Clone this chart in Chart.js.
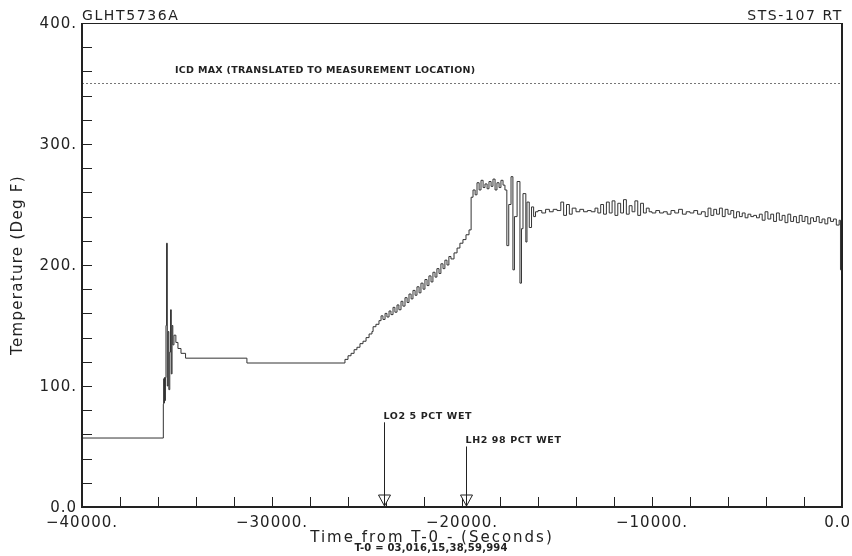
<!DOCTYPE html>
<html>
<head>
<meta charset="utf-8">
<script src="https://cdn.jsdelivr.net/npm/chart.js@4/dist/chart.umd.min.js"></script>
<style>
  html, body { margin: 0; padding: 0; background: #fff; }
  #wrap { width: 852px; height: 556px; }
</style>
</head>
<body>
<div id="wrap"><canvas id="chart" width="852" height="556"></canvas></div>
<script>
// Header texts
const leftHeader = 'GLHT5736A';
const rightHeader = 'STS-107 RT';
const xTitle = 'Time from T-0 - (Seconds)';
const xSubTitle = 'T-0 = 03,016,15,38,59,994';
const yTitle = 'Temperature (Deg F)';

// Axis ticks
const xTickValues = [-40000, -30000, -20000, -10000, 0];
const xTickLabels = ['\u221240000.', '\u221230000.', '\u221220000.', '\u221210000.', '0.0'];
const yTickValues = [0, 100, 200, 300, 400];
const yTickLabels = ['0.0', '100.', '200.', '300.', '400.'];

// Limit line
const icdMax = 350;
const icdLabel = 'ICD MAX (TRANSLATED TO MEASUREMENT LOCATION)';

// Events (time, label, label level in Deg F)
const eventTimes = [-24100, -19800];
const eventLabels = ['LO2 5 PCT WET', 'LH2 98 PCT WET'];
const eventLevels = [70, 50];

// Measurement: time (s) where the value changes, temperature (Deg F)
const timeSec = [
  -40000, -35720, -35700, -35680, -35660, -35640, -35610, -35580, -35550, -35510,
  -35470, -35430, -35380, -35340, -35300, -35260, -35220, -35160, -35060, -34950,
  -34790, -34550, -31320,
  -26160, -26000, -25840, -25680, -25530, -25370, -25210, -25050, -24890, -24740,
  -24680, -24530, -24370, -24260, -24160, -24050, -23950, -23840, -23740, -23630,
  -23530, -23420, -23320, -23210, -23110, -23000, -22890, -22790, -22680, -22580,
  -22470, -22370, -22260, -22160, -22050, -21950, -21840, -21740, -21630, -21530,
  -21420, -21320, -21210, -21110, -21000, -20900, -20790, -20690, -20580, -20420,
  -20260, -20110, -19950, -19790, -19630,
  -19520, -19420, -19310, -19210, -19100, -19000, -18890, -18790, -18680, -18580,
  -18470, -18370, -18260, -18160, -18050, -17950, -17840, -17740,
  -17640, -17540, -17420, -17320, -17240, -17100, -16950, -16870, -16790, -16640,
  -16580, -16460, -16340, -16230, -16130,
  -16000, -15800, -15600, -15400, -15200, -15000, -14800, -14650, -14500, -14350,
  -14200, -14000, -13800, -13600, -13400, -13200, -13000, -12850, -12700, -12550,
  -12400, -12250, -12100, -11950, -11800, -11650, -11500, -11350, -11200, -11050,
  -10900, -10750, -10600, -10450, -10300, -10150, -10000, -9800, -9600, -9400,
  -9200, -9000, -8800, -8600, -8400, -8200, -8000, -7800, -7600, -7400,
  -7200, -7050, -6900, -6750, -6600, -6450, -6300, -6150, -6000, -5850,
  -5700, -5550, -5400, -5250, -5100, -4950, -4800, -4650, -4500, -4350,
  -4200, -4050, -3900, -3750, -3600, -3450, -3300, -3150, -3000, -2850,
  -2700, -2550, -2400, -2250, -2100, -1950, -1800, -1650, -1500, -1350,
  -1200, -1050, -900, -750, -600, -450, -300, -150, -80, 0
];
const tempF = [
  57, 85, 106, 86, 107, 88, 107, 150, 218, 100,
  145, 97, 128, 163, 110, 150, 134, 142, 136, 131,
  127, 123, 119,
  122, 125, 127, 130, 132, 135, 137, 140, 143, 145,
  149, 151, 154, 158, 155, 160, 157, 162, 159, 165,
  161, 167, 163, 170, 166, 173, 169, 176, 172, 179,
  175, 182, 177, 185, 180, 188, 183, 191, 186, 194,
  190, 197, 193, 201, 197, 204, 200, 207, 205, 210,
  214, 218, 221, 225, 229,
  256, 262, 258, 268, 262, 270, 264, 267, 263, 269,
  265, 271, 262, 268, 264, 270, 266, 262,
  216, 250, 273, 196, 240, 269, 185, 230, 259, 219,
  252, 231, 248, 240, 244,
  245, 243, 246, 244, 246, 245, 252, 241, 250, 242,
  247, 244, 246, 244, 245, 244, 247, 243, 250, 242,
  252, 243, 253, 241, 251, 243, 254, 242, 249, 244,
  253, 241, 251, 243, 247, 244, 243, 245, 243, 244,
  242, 245, 243, 246, 242, 244, 243, 245, 242, 244,
  240, 247, 241, 246, 242, 247, 240, 246, 242, 245,
  239, 244, 240, 243, 239, 242, 240, 241, 239, 242,
  237, 244, 238, 242, 236, 243, 237, 241, 235, 242,
  236, 240, 235, 241, 236, 240, 234, 239, 236, 240,
  235, 238, 234, 239, 236, 238, 233, 237, 196, 196
];

const INK = '#222';
const FONT = '"DejaVu Sans", sans-serif';

function setSpacing(ctx, px) {
  if ('letterSpacing' in ctx) ctx.letterSpacing = px + 'px';
}

// Frame, inward ticks, labels and event arrows
const plotDecor = {
  id: 'plotDecor',
  afterDraw(chart) {
    const { ctx, chartArea: a, scales: { x, y } } = chart;
    ctx.save();
    ctx.strokeStyle = INK;
    ctx.fillStyle = INK;

    // frame
    ctx.lineWidth = 1;
    ctx.strokeRect(a.left + 0.5, a.top + 0.5, a.right - a.left, a.bottom - a.top);
    ctx.lineWidth = 2;
    ctx.beginPath();
    ctx.moveTo(a.right, a.top);
    ctx.lineTo(a.right, a.bottom);
    ctx.moveTo(a.left, a.top);
    ctx.lineTo(a.left, a.bottom);
    ctx.lineTo(a.right, a.bottom);
    ctx.stroke();

    // minor ticks, inward
    ctx.lineWidth = 1;
    ctx.beginPath();
    for (let v = 20; v < 400; v += 20) {
      const py = Math.round(y.getPixelForValue(v)) + 0.5;
      ctx.moveTo(a.left, py);
      ctx.lineTo(a.left + 10, py);
    }
    for (let t = -38000; t < 0; t += 2000) {
      const px = Math.round(x.getPixelForValue(t)) + 0.5;
      ctx.moveTo(px, a.bottom);
      ctx.lineTo(px, a.bottom - 10);
    }
    ctx.stroke();

    // tick labels
    ctx.font = '15px ' + FONT;
    setSpacing(ctx, 1);
    ctx.textBaseline = 'middle';
    ctx.textAlign = 'right';
    yTickValues.forEach((v, i) => {
      const shift = v === 0 ? 5 : 5;
      ctx.fillText(yTickLabels[i], a.left - shift, y.getPixelForValue(v) + 1);
    });
    ctx.textAlign = 'center';
    xTickValues.forEach((t, i) => {
      let px = x.getPixelForValue(t);
      const w = ctx.measureText(xTickLabels[i]).width;
      if (px + w / 2 > chart.width - 1) px = chart.width - 1 - w / 2;
      ctx.fillText(xTickLabels[i], px, a.bottom + 16);
    });

    // headers
    ctx.font = '14px ' + FONT;
    setSpacing(ctx, 1.6);
    ctx.textBaseline = 'alphabetic';
    ctx.textAlign = 'left';
    ctx.fillText(leftHeader, a.left, a.top - 3);
    ctx.textAlign = 'right';
    ctx.fillText(rightHeader, a.right + 1, a.top - 3);

    // axis titles
    ctx.font = '15px ' + FONT;
    setSpacing(ctx, 2);
    ctx.textAlign = 'center';
    ctx.textBaseline = 'middle';
    ctx.fillText(xTitle, 432, a.bottom + 31);
    ctx.font = 'bold 10px ' + FONT;
    setSpacing(ctx, 0.2);
    ctx.fillText(xSubTitle, 431, a.bottom + 41);
    ctx.save();
    ctx.translate(18, 265);
    ctx.rotate(-Math.PI / 2);
    ctx.font = '15px ' + FONT;
    setSpacing(ctx, 1.3);
    ctx.fillText(yTitle, 0, 0);
    ctx.restore();

    // ICD label
    ctx.font = 'bold 9.5px ' + FONT;
    setSpacing(ctx, 0.3);
    ctx.textAlign = 'left';
    ctx.fillText(icdLabel, 175, y.getPixelForValue(icdMax) - 13);

    // event arrows
    setSpacing(ctx, 0.6);
    eventTimes.forEach((t, i) => {
      const px = Math.round(x.getPixelForValue(t)) + 0.5;
      const top = y.getPixelForValue(eventLevels[i]);
      ctx.lineWidth = 1;
      ctx.beginPath();
      ctx.moveTo(px - 6, a.bottom - 12);
      ctx.lineTo(px + 6, a.bottom - 12);
      ctx.lineTo(px, a.bottom - 1);
      ctx.closePath();
      ctx.fillStyle = '#fff';
      ctx.fill();
      ctx.stroke();
      ctx.beginPath();
      ctx.moveTo(px, top);
      ctx.lineTo(px, a.bottom);
      ctx.stroke();
      ctx.fillStyle = INK;
      ctx.fillText(eventLabels[i], px - 1, top - 6);
    });

    ctx.restore();
  }
};

const series = timeSec.map((t, i) => ({ x: t, y: tempF[i] }));

new Chart(document.getElementById('chart'), {
  type: 'line',
  data: {
    datasets: [
      {
        data: series,
        stepped: true,
        borderColor: '#333',
        borderWidth: 1,
        pointRadius: 0,
        fill: false
      },
      {
        data: [{ x: -40000, y: icdMax }, { x: 0, y: icdMax }],
        borderColor: '#777',
        borderWidth: 1,
        borderDash: [2, 2],
        pointRadius: 0,
        fill: false
      }
    ]
  },
  options: {
    responsive: false,
    animation: false,
    layout: { padding: { left: 82, right: 10, top: 23, bottom: 49 } },
    scales: {
      x: { type: 'linear', min: -40000, max: 0, display: false },
      y: { type: 'linear', min: 0, max: 400, display: false }
    },
    plugins: {
      legend: { display: false },
      tooltip: { enabled: false }
    }
  },
  plugins: [plotDecor]
});
</script>
</body>
</html>
